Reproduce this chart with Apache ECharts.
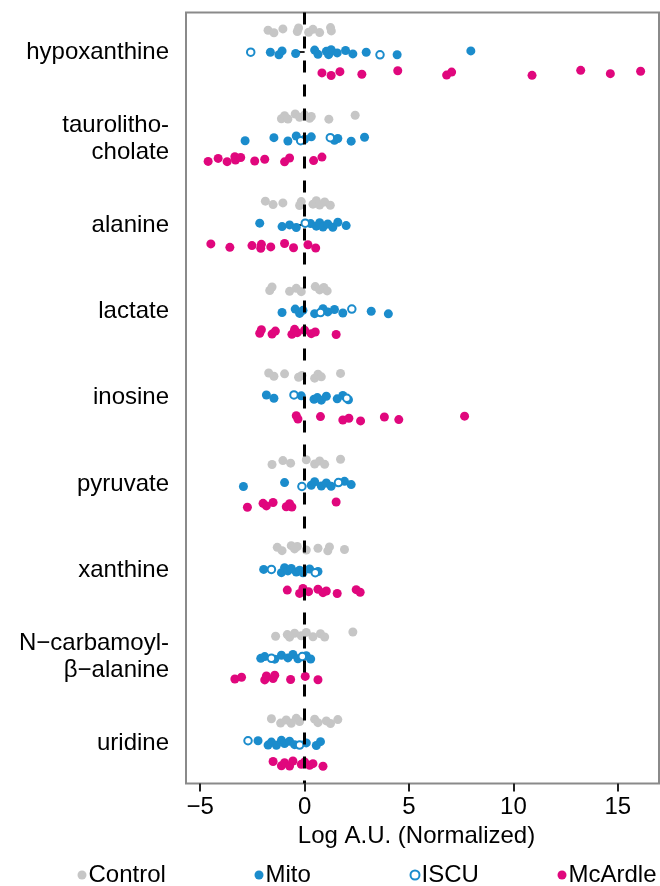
<!DOCTYPE html>
<html>
<head>
<meta charset="utf-8">
<script src="https://cdn.jsdelivr.net/npm/echarts@6/dist/echarts.min.js"></script>
<style>
  html, body { margin: 0; padding: 0; background: #fff; }
  #chart { width: 660px; height: 886px; }
</style>
</head>
<body>
<div id="chart"></div>
<script>
// ---- data ----
const categories = ['hypoxanthine', 'taurolitho-\ncholate', 'alanine', 'lactate', 'inosine',
  'pyruvate', 'xanthine', 'N\u2212carbamoyl-\n\u03b2\u2212alanine', 'uridine'];
const xTicks = [-5, 0, 5, 10, 15];

const controlVals = [
  [-1.75, -1.47, -1.04, -0.35, -0.29, 0.19, 0.40, 0.72, 1.24, 1.28],
  [-1.11, -0.96, -0.80, -0.45, -0.24, 0.00, 0.24, 0.32, 1.16, 2.42],
  [-1.88, -1.51, -1.04, -0.24, -0.16, 0.40, 0.56, 0.72, 0.96, 1.23],
  [-1.67, -1.56, -0.72, -0.40, -0.16, 0.51, 0.72, 0.92, 1.08],
  [-1.72, -1.47, -0.96, -0.29, -0.13, 0.48, 0.64, 0.80, 1.72],
  [-1.56, -1.04, -0.67, 0.08, 0.48, 0.72, 0.96, 1.72],
  [-1.31, -1.08, -0.64, -0.48, -0.35, 0.08, 0.64, 1.11, 1.19, 1.91],
  [-1.39, -0.83, -0.72, -0.48, -0.16, 0.08, 0.40, 0.76, 0.96, 2.31],
  [-1.59, -1.15, -0.88, -0.64, -0.40, -0.24, 0.48, 0.64, 1.04, 1.24, 1.59]
];
const mitoVals = [
  [-1.64, -1.23, -1.08, -0.43, 0.48, 0.64, 1.04, 1.15, 1.27, 1.56, 1.96, 2.31, 2.95, 4.43, 7.96],
  [-2.85, -1.47, -0.80, -0.40, 0.00, 0.32, 1.43, 1.59, 2.23, 2.87],
  [-2.15, -1.08, -0.72, -0.40, 0.29, 0.56, 0.72, 0.88, 1.11, 1.35, 1.59, 1.99],
  [-1.08, -0.45, -0.24, -0.08, 0.48, 0.88, 1.11, 1.43, 1.83, 3.19, 4.01],
  [-1.83, -1.47, -0.16, 0.45, 0.61, 0.80, 1.04, 1.56, 1.83, 2.10],
  [-2.93, -0.96, 0.32, 0.48, 0.80, 1.04, 1.27, 1.91, 2.23],
  [-1.96, -1.11, -0.96, -0.80, -0.64, -0.40, -0.24, -0.08, 0.24, 0.64],
  [-2.10, -1.91, -1.43, -1.11, -0.80, -0.56, -0.32, 0.08, 0.29],
  [-2.23, -1.75, -1.59, -1.35, -1.11, -0.96, -0.72, -0.48, 0.08, 0.56, 0.76]
];
const iscuVals = [
  [-2.58, 3.61],
  [-0.19, 1.23],
  [0.03],
  [0.76, 2.26],
  [-0.51, 2.02],
  [-0.13, 1.62],
  [-1.59, 0.51],
  [-1.59, -0.11],
  [-2.71, -0.24]
];
const mcardleVals = [
  [0.83, 1.27, 1.69, 2.74, 4.46, 6.80, 7.04, 10.89, 13.22, 14.64, 16.09],
  [-4.62, -4.14, -3.71, -3.34, -3.31, -3.06, -2.39, -1.91, -0.96, -0.72, 0.43, 0.83],
  [-4.49, -3.58, -2.52, -2.10, -2.07, -1.62, -0.96, -0.53, 0.16, 0.53],
  [-2.15, -2.07, -1.56, -1.40, -0.61, -0.48, -0.35, 0.00, 0.32, 0.51, 1.51],
  [-0.40, -0.32, 0.76, 1.83, 2.12, 2.68, 3.82, 4.51, 7.66],
  [-2.74, -1.99, -1.83, -1.51, -0.88, -0.72, -0.61, 1.51],
  [-0.83, -0.24, -0.08, 0.19, 0.64, 0.88, 1.04, 1.56, 2.47, 2.66],
  [-3.34, -3.02, -1.91, -1.83, -1.51, -1.43, -0.67, 0.03, 0.64],
  [-1.51, -1.11, -0.96, -0.72, -0.56, -0.16, 0.00, 0.24, 0.40, 0.88]
];

// ---- layout / style ----
const FONT = '"Liberation Sans", Arial, Helvetica, sans-serif';
const C_GREY = '#c6c6c6', C_BLUE = '#1b8ccc', C_PINK = '#e0077d';
const rowOffset = { control: -0.255, mito: 0, mcardle: 0.24 };
const jitterPattern = [0, 0.025, -0.02, 0.015, -0.03, 0.03, -0.01, 0.02, -0.025, 0.008, -0.015, 0.028];

function build(vals, off) {
  const out = [];
  vals.forEach((row, ci) => {
    row.forEach((v, i) => {
      out.push([v, ci + 1 + off + jitterPattern[(i * 5 + ci) % jitterPattern.length]]);
    });
  });
  return out;
}

const catPos = categories.map((_, i) => i + 1);
const chart = echarts.init(document.getElementById('chart'), null, { renderer: 'canvas' });

function legendAt(name, left) {
  return {
    data: [name], left: left, top: 858, orient: 'horizontal',
    itemWidth: 9, itemHeight: 9, itemGap: 0,
    textStyle: { fontSize: 24, fontFamily: FONT, color: '#000', padding: [0, 0, 0, -3] },
    selectedMode: false
  };
}

chart.setOption({
  animation: false,
  backgroundColor: '#fff',
  grid: {
    left: 186, right: 1, top: 12.5, bottom: 102.5,
    show: true, borderColor: '#8a8a8a', borderWidth: 2, backgroundColor: 'transparent'
  },
  legend: [
    legendAt('Control', 72.5),
    legendAt('Mito', 249.5),
    legendAt('ISCU', 404.5),
    legendAt('McArdle', 552.5)
  ],
  xAxis: {
    type: 'value', min: -5.68, max: 16.97,
    name: 'Log A.U. (Normalized)', nameLocation: 'middle', nameGap: 38,
    nameTextStyle: { fontSize: 24, fontFamily: FONT, color: '#000', padding: [0, 12, 0, 0] },
    axisLine: { show: false },
    axisTick: { show: true, customValues: xTicks, length: 8, lineStyle: { color: '#222', width: 2 } },
    axisLabel: {
      customValues: xTicks, margin: 12, fontSize: 24, fontFamily: FONT, color: '#000',
      formatter: v => (v < 0 ? '\u2212' + Math.abs(v) : String(v))
    },
    splitLine: { show: false }
  },
  yAxis: {
    type: 'value', inverse: true, min: 0.54, max: 9.47,
    axisLine: { show: false },
    axisTick: { show: true, customValues: catPos, length: 6, lineStyle: { color: '#222', width: 2 } },
    axisLabel: {
      customValues: catPos, margin: 17, fontSize: 24, fontFamily: FONT, color: '#000',
      align: 'right', lineHeight: 27,
      formatter: v => categories[Math.round(v) - 1] || ''
    },
    splitLine: { show: false }
  },
  series: [
    {
      name: 'Control', type: 'scatter', symbol: 'circle', symbolSize: 9,
      itemStyle: { color: C_GREY, opacity: 1 },
      data: build(controlVals, rowOffset.control), z: 2
    },
    {
      name: 'Mito', type: 'scatter', symbol: 'circle', symbolSize: 9,
      itemStyle: { color: C_BLUE, opacity: 1 },
      data: build(mitoVals, rowOffset.mito), z: 2
    },
    {
      name: 'ISCU', type: 'scatter', symbol: 'circle', symbolSize: 7.5,
      itemStyle: { color: '#fff', borderColor: C_BLUE, borderWidth: 2, opacity: 1 },
      data: build(iscuVals, rowOffset.mito), z: 3
    },
    {
      name: 'McArdle', type: 'scatter', symbol: 'circle', symbolSize: 9,
      itemStyle: { color: C_PINK, opacity: 1 },
      data: build(mcardleVals, rowOffset.mcardle), z: 2,
      markLine: {
        silent: true, symbol: 'none', z: 10, label: { show: false },
        lineStyle: { color: '#000', width: 3, type: [12, 12] },
        data: [{ xAxis: 0 }]
      }
    }
  ]
});
</script>
</body>
</html>
